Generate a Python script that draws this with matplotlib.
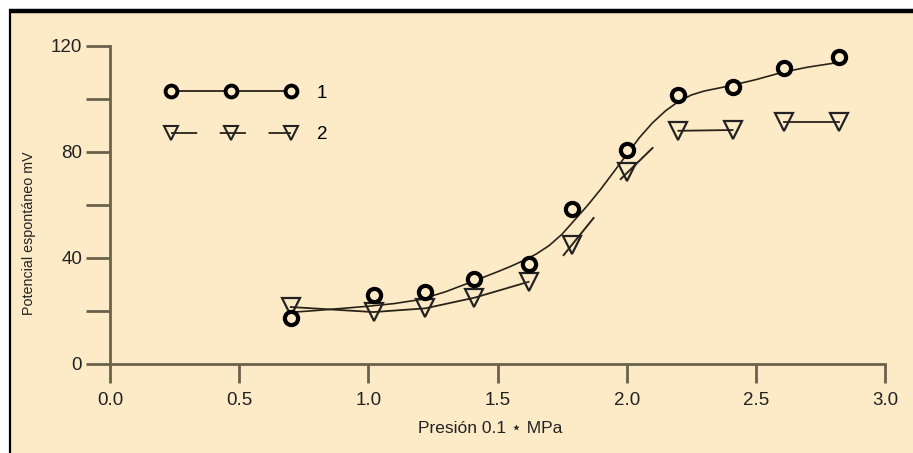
import numpy as np
import matplotlib
matplotlib.use('Agg')
import matplotlib.pyplot as plt
from matplotlib.lines import Line2D
from matplotlib.patches import Rectangle

plt.rcParams['font.family'] = ['Liberation Sans', 'DejaVu Sans']

# datos
presion = [0.7, 1.02, 1.22, 1.41, 1.62, 1.79, 2.0, 2.2, 2.41, 2.61, 2.82]
pot_1 = [17.4, 26.0, 27.0, 32.0, 37.7, 58.5, 80.8, 101.5, 104.5, 111.7, 115.8]
pot_2 = [21.5, 19.6, 21.0, 25.0, 31.0, 45.0, 72.5, 88.0, 88.3, 91.4, 91.4]

# curva de la serie 1 (leida punto a punto sobre el trazo)
curva_x = [0.7, 0.8, 0.9, 1.0, 1.1, 1.2, 1.3, 1.4, 1.5, 1.55, 1.6, 1.65, 1.7,
           1.75, 1.8, 1.85, 1.9, 1.95, 2.0, 2.05, 2.1, 2.15, 2.2, 2.25, 2.3,
           2.4, 2.5, 2.6, 2.7, 2.8]
curva_y = [19.5, 20.2, 21.0, 21.8, 22.8, 24.3, 27.3, 31.0, 34.8, 36.8, 39.0,
           41.5, 44.7, 49.0, 54.5, 60.0, 66.0, 72.5, 79.0, 85.5, 91.0, 95.5,
           99.0, 101.5, 103.0, 105.0, 107.3, 110.0, 112.0, 113.5]

# tramos de la serie 2
tramos_2 = [(0, 5), (7, 9), (9, 11)]
trazo_18 = ([1.756, 1.872], [41.1, 55.1])
trazo_20 = ([1.977, 2.10], [69.8, 81.5])

xticks = [0.0, 0.5, 1.0, 1.5, 2.0, 2.5, 3.0]
yticks = [0, 40, 80, 120]
yticks_menores = [20, 60, 100]

fondo = '#fdebc8'
eje_color = '#6b624c'
tinta = '#2a2418'

fig = plt.figure(figsize=(9.13, 4.53), dpi=100)
fig.patch.set_facecolor('white')
fig.add_artist(Rectangle((9 / 913, 0), 1 - 9 / 913, 1 - 9 / 453, transform=fig.transFigure,
                         facecolor=fondo, edgecolor='none', zorder=0))
fig.add_artist(Line2D([9 / 913, 1], [1 - 11 / 453, 1 - 11 / 453], transform=fig.transFigure,
                      color='black', linewidth=3.2, solid_capstyle='butt'))
fig.add_artist(Line2D([10 / 913, 10 / 913], [0, 1 - 9 / 453], transform=fig.transFigure,
                      color='black', linewidth=1.6, solid_capstyle='butt'))

ax = fig.add_axes([110 / 913, 89 / 453, 775 / 913, 318 / 453])
ax.set_facecolor('none')
ax.set_xlim(0, 3)
ax.set_ylim(0, 120)
for s in ['top', 'right']:
    ax.spines[s].set_visible(False)
for s in ['left', 'bottom']:
    ax.spines[s].set_color(eje_color)
    ax.spines[s].set_linewidth(2.0)

ax.set_xticks(xticks)
ax.set_xticklabels(['%.1f' % v for v in xticks])
ax.set_yticks(yticks)
ax.set_yticks(yticks_menores, minor=True)
ax.tick_params(axis='x', direction='out', length=14, width=2.0, color=eje_color,
               labelsize=13.5, pad=6, labelcolor='#222222')
ax.tick_params(axis='y', which='both', direction='out', length=17, width=2.0,
               color=eje_color, labelsize=13.5, pad=3, labelcolor='#222222')

# serie 1
ax.plot(curva_x, curva_y, color=tinta, linewidth=1.2, zorder=2)
ax.plot(presion, pot_1, linestyle='none', marker='o', markersize=9.5,
        markerfacecolor=fondo, markeredgecolor='black', markeredgewidth=3.0, zorder=4)

# serie 2
for a, b in tramos_2:
    ax.plot(presion[a:b], pot_2[a:b], color=tinta, linewidth=1.3, zorder=2)
ax.plot(*trazo_18, color=tinta, linewidth=1.4, zorder=2)
ax.plot(*trazo_20, color=tinta, linewidth=1.4, zorder=2)
ax.plot(presion, pot_2, linestyle='none', marker='v', markersize=12.5,
        markerfacecolor='none', markeredgecolor='#222222', markeredgewidth=1.6, zorder=3)

ax.set_xlabel('Presión 0.1 ⋆ MPa', fontsize=12.5, color='#222222')
ax.xaxis.set_label_coords(0.49, -0.18)
ax.set_ylabel('Potencial espontáneo mV', fontsize=10.3, color='#222222')
ax.yaxis.set_label_coords(-0.095, 0.41)

h1 = Line2D([], [], color=tinta, linewidth=1.3, marker='o', markersize=8.5,
            markerfacecolor=fondo, markeredgecolor='black', markeredgewidth=2.8)
h2 = Line2D([], [], color=tinta, linewidth=1.3, marker='v', markersize=10,
            markerfacecolor='none', markeredgecolor='#222222', markeredgewidth=1.5,
            dashes=(14.5, 12.5))
ax.legend([h1, h2], ['1', '2'], loc='upper left', bbox_to_anchor=(0.071, 0.878),
          frameon=False, numpoints=3, fontsize=13.5, handlelength=7.0,
          handletextpad=1.1, labelspacing=1.3, borderpad=0, borderaxespad=0)

fig.savefig('out.png', dpi=100, facecolor=fig.get_facecolor())
